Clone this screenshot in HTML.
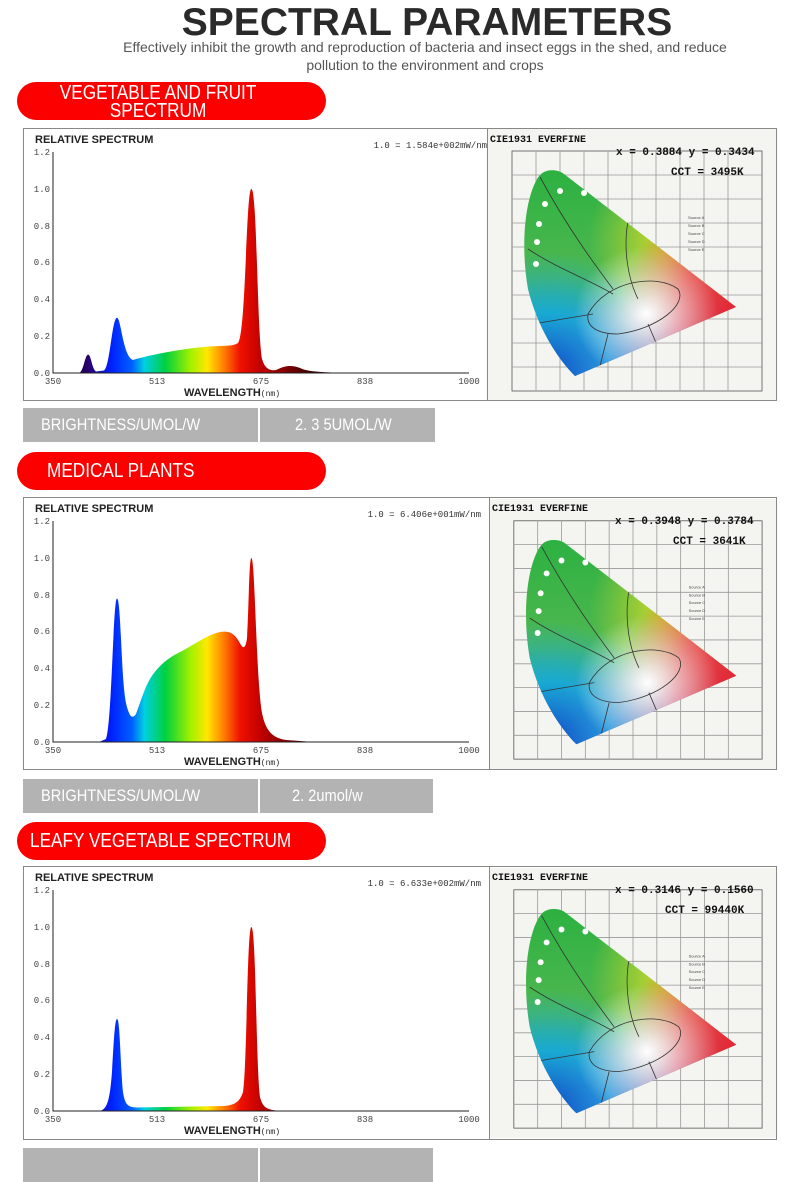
<!DOCTYPE html>
<html><head><meta charset="utf-8"><style>
body{margin:0;background:#fff;width:800px;height:1150px;position:relative;overflow:hidden;font-family:"Liberation Sans",sans-serif}
.abs{position:absolute}
.title{left:27px;width:800px;top:2px;text-align:center;font-size:39px;font-weight:900;color:#2a2a2a;line-height:42px}
.sub{left:25px;width:800px;text-align:center;font-size:14px;color:#555;line-height:18px}
.pill{left:17px;width:309px;height:38px;background:#fc0000;border-radius:19px;color:#fff;font-size:20px}
.cond{display:inline-block;transform:scaleX(0.86);transform-origin:left center;white-space:nowrap}
.box{border:1px solid #888;background:#fff}
.bar{height:34px;background:#b3b3b3;color:#fff;font-size:17px;line-height:34px}
</style></head><body>
<svg width="0" height="0" style="position:absolute">
<defs>
<linearGradient id="spec" gradientUnits="userSpaceOnUse" x1="29" y1="0" x2="445" y2="0">
<stop offset="0" stop-color="#000"/>
<stop offset="0.05" stop-color="#10002a"/>
<stop offset="0.085" stop-color="#2a0070"/>
<stop offset="0.14" stop-color="#0020ff"/>
<stop offset="0.19" stop-color="#0060ff"/>
<stop offset="0.22" stop-color="#00d0e0"/>
<stop offset="0.27" stop-color="#00d040"/>
<stop offset="0.33" stop-color="#a0f000"/>
<stop offset="0.37" stop-color="#ffe800"/>
<stop offset="0.41" stop-color="#ff8000"/>
<stop offset="0.45" stop-color="#f01000"/>
<stop offset="0.5" stop-color="#c00000"/>
<stop offset="0.56" stop-color="#800000"/>
<stop offset="0.62" stop-color="#3a0000"/>
<stop offset="1" stop-color="#000"/>
</linearGradient>
<clipPath id="hs"><path d="M87,247 C70,230 50,200 40,160 C33,120 36,75 48,52 C53,42 60,40 70,42 C73,43 75,44 76,45 L248,178 Z"/></clipPath>
<linearGradient id="g1" x1="0" y1="0" x2="0" y2="1"><stop offset="0" stop-color="#1fae3c"/><stop offset="0.55" stop-color="#50b850"/><stop offset="1" stop-color="#10a0e0"/></linearGradient>
<radialGradient id="rb" cx="0.2" cy="0.9" r="0.45"><stop offset="0" stop-color="#1040c0"/><stop offset="0.5" stop-color="#10a8e8" stop-opacity="0.8"/><stop offset="1" stop-color="#10a8e8" stop-opacity="0"/></radialGradient>
<radialGradient id="rr" cx="0.95" cy="0.7" r="0.5"><stop offset="0" stop-color="#ee1020"/><stop offset="0.6" stop-color="#f03050" stop-opacity="0.8"/><stop offset="1" stop-color="#f03050" stop-opacity="0"/></radialGradient>
<radialGradient id="ry" cx="0.7" cy="0.4" r="0.35"><stop offset="0" stop-color="#ffea20"/><stop offset="1" stop-color="#f0e020" stop-opacity="0"/></radialGradient>
<radialGradient id="rm" cx="0.45" cy="0.95" r="0.35"><stop offset="0" stop-color="#c030b0"/><stop offset="1" stop-color="#d040a0" stop-opacity="0"/></radialGradient>
<radialGradient id="rw" cx="0.55" cy="0.68" r="0.25"><stop offset="0" stop-color="#fff"/><stop offset="1" stop-color="#fff" stop-opacity="0"/></radialGradient>
<symbol id="cie" viewBox="0 0 288 272">
<rect width="288" height="272" fill="#f4f4f0"/>
<g stroke="#999" stroke-width="0.8" fill="none">
<rect x="24" y="22" width="250" height="240" stroke="#555"/>
<path d="M48,22V262M72,22V262M96,22V262M120,22V262M144,22V262M168,22V262M192,22V262M216,22V262M240,22V262M24,46H274M24,70H274M24,94H274M24,118H274M24,142H274M24,166H274M24,190H274M24,214H274M24,238H274"/>
</g>
<g clip-path="url(#hs)">
<rect width="288" height="272" fill="url(#g1)"/>
<rect width="288" height="272" fill="url(#ry)"/>
<rect width="288" height="272" fill="url(#rr)"/>
<rect width="288" height="272" fill="url(#rm)"/>
<rect width="288" height="272" fill="url(#rb)"/>
<rect width="288" height="272" fill="url(#rw)"/>
<g stroke="#333" stroke-width="0.8" fill="none"><path d="M52,48 C80,100 110,140 125,160"/><path d="M40,120 C70,140 100,150 125,165"/><path d="M140,92 C135,120 140,150 150,170"/><path d="M100,185 C120,150 170,145 190,160 C200,175 170,200 130,205 C110,205 98,198 100,185Z"/><path d="M45,195 L105,185"/><path d="M120,205 L110,245"/><path d="M160,195 L175,230"/></g>
</g>
<g fill="#fff"><circle cx="72" cy="62" r="3"/><circle cx="57" cy="75" r="3"/><circle cx="51" cy="95" r="3"/><circle cx="49" cy="113" r="3"/><circle cx="48" cy="135" r="3"/><circle cx="96" cy="64" r="3"/></g>
<g fill="#444" font-size="4" font-family="Liberation Sans"><text x="200" y="90">Source A</text><text x="200" y="98">Source B</text><text x="200" y="106">Source C</text><text x="200" y="114">Source D</text><text x="200" y="122">Source E</text></g>
</symbol>
</defs></svg>

<div class="abs title">SPECTRAL PARAMETERS</div>
<div class="abs sub" style="top:38px">Effectively inhibit the growth and reproduction of bacteria and insect eggs in the shed, and reduce<br>pollution to the environment and crops</div>

<!-- Section 1 -->
<div class="abs pill" style="top:82px;line-height:18px;padding-top:2px;box-sizing:border-box"><span class="cond" style="position:absolute;left:40px;top:2px;text-align:center;width:235px">VEGETABLE AND FRUIT<br>SPECTRUM</span></div>
<svg class="abs box" style="left:23px;top:128px" width="464" height="271">
<text x="11" y="14" font-size="11" font-weight="bold" fill="#222">RELATIVE SPECTRUM</text>
<text x="463" y="19" text-anchor="end" font-size="9" font-family="Liberation Mono" fill="#333">1.0 = 1.584e+002mW/nm</text>
<path d="M40,244 L56,243.5 C60,240 61,225.6 64.2,225.6 C67,225.6 68,240 72,242.5 L80,241.5 C86,238 88,188.8 93,188.8 C97,188.8 99,228 109,231 C125,226 157,220 180,218 C200,216 208,218 214,214 C222,205 222,60 227.4,60 C233,60 233,200 238,230 C241,240 246,242 252,241 C262,236 268,236 276,239 C282,242 290,243 320,244 Z" fill="url(#spec)"/>
<g font-family="Liberation Mono" font-size="9" fill="#444" text-anchor="end"><text x="26" y="26">1.2</text><text x="26" y="63">1.0</text><text x="26" y="100">0.8</text><text x="26" y="136">0.6</text><text x="26" y="173">0.4</text><text x="26" y="210">0.2</text><text x="26" y="247">0.0</text></g>
<path d="M29,23V244H445" stroke="#222" fill="none"/>
<g font-family="Liberation Mono" font-size="9" fill="#444" text-anchor="middle"><text x="29" y="255">350</text><text x="133" y="255">513</text><text x="237" y="255">675</text><text x="341" y="255">838</text><text x="445" y="255">1000</text></g>
<text x="160" y="267" font-size="11" font-weight="bold" fill="#222">WAVELENGTH<tspan font-size="8" font-weight="normal" font-family="Liberation Mono">(nm)</tspan></text>
</svg>
<div class="abs box" style="left:487px;top:128px;width:288px;height:271px">
<svg width="288" height="271"><use href="#cie" width="288" height="272"/>
<g font-family="Liberation Mono" font-weight="bold" fill="#111"><text x="2" y="13" font-size="10">CIE1931  EVERFINE</text><text x="128" y="26" font-size="11">x = 0.3884 y = 0.3434</text><text x="183" y="46" font-size="11">CCT = 3495K</text></g></svg></div>
<div class="abs bar" style="left:23px;top:408px;width:235px;padding-left:18px;box-sizing:border-box"><span class="cond">BRIGHTNESS/UMOL/W</span></div>
<div class="abs bar" style="left:260px;top:408px;width:175px;padding-left:35px;box-sizing:border-box"><span class="cond">2. 3 5UMOL/W</span></div>

<!-- Section 2 -->
<div class="abs pill" style="top:452px;line-height:38px;padding-left:30px;box-sizing:border-box"><span class="cond">MEDICAL PLANTS</span></div>
<svg class="abs box" style="left:23px;top:497px" width="466" height="271">
<text x="11" y="14" font-size="11" font-weight="bold" fill="#222">RELATIVE SPECTRUM</text>
<text x="457" y="19" text-anchor="end" font-size="9" font-family="Liberation Mono" fill="#333">1.0 = 6.406e+001mW/nm</text>
<path d="M75,244 L82,241 C88,225 89,100.5 93,100.5 C97,100.5 97,180 102,205 C105,218 108,222 112,216 C118,200 122,185 130,175 C140,162 150,157 160,152 C180,140 190,134 200,133.6 C210,133 214,142 217,147 C220,152 222,148 223,140 C225,110 225,60 227.4,60 C231,60 232,180 238,215 C242,235 250,240 262,242 L290,244 Z" fill="url(#spec)"/>
<g font-family="Liberation Mono" font-size="9" fill="#444" text-anchor="end"><text x="26" y="26">1.2</text><text x="26" y="63">1.0</text><text x="26" y="100">0.8</text><text x="26" y="136">0.6</text><text x="26" y="173">0.4</text><text x="26" y="210">0.2</text><text x="26" y="247">0.0</text></g>
<path d="M29,23V244H445" stroke="#222" fill="none"/>
<g font-family="Liberation Mono" font-size="9" fill="#444" text-anchor="middle"><text x="29" y="255">350</text><text x="133" y="255">513</text><text x="237" y="255">675</text><text x="341" y="255">838</text><text x="445" y="255">1000</text></g>
<text x="160" y="267" font-size="11" font-weight="bold" fill="#222">WAVELENGTH<tspan font-size="8" font-weight="normal" font-family="Liberation Mono">(nm)</tspan></text>
</svg>
<div class="abs box" style="left:489px;top:497px;width:286px;height:271px">
<svg width="286" height="271"><use href="#cie" width="286" height="272"/>
<g font-family="Liberation Mono" font-weight="bold" fill="#111"><text x="2" y="13" font-size="10">CIE1931  EVERFINE</text><text x="125" y="26" font-size="11">x = 0.3948 y = 0.3784</text><text x="183" y="46" font-size="11">CCT = 3641K</text></g></svg></div>
<div class="abs bar" style="left:23px;top:779px;width:235px;padding-left:18px;box-sizing:border-box"><span class="cond">BRIGHTNESS/UMOL/W</span></div>
<div class="abs bar" style="left:260px;top:779px;width:173px;padding-left:32px;box-sizing:border-box"><span class="cond">2. 2umol/w</span></div>

<!-- Section 3 -->
<div class="abs pill" style="top:822px;line-height:38px;padding-left:13px;box-sizing:border-box"><span class="cond">LEAFY VEGETABLE SPECTRUM</span></div>
<svg class="abs box" style="left:23px;top:866px" width="466" height="272">
<text x="11" y="14" font-size="11" font-weight="bold" fill="#222">RELATIVE SPECTRUM</text>
<text x="457" y="19" text-anchor="end" font-size="9" font-family="Liberation Mono" fill="#333">1.0 = 6.633e+002mW/nm</text>
<path d="M76,244 C84,242 86,230 88,205 C90,170 91,152 93,152 C96,152 96,190 99,225 C101,238 104,240 112,240.5 L200,239 C212,238 216,234 219,225 C223,200 223,60 227.4,60 C232,60 232,200 236,230 C239,242 244,243 258,244 Z" fill="url(#spec)"/>
<g font-family="Liberation Mono" font-size="9" fill="#444" text-anchor="end"><text x="26" y="26">1.2</text><text x="26" y="63">1.0</text><text x="26" y="100">0.8</text><text x="26" y="136">0.6</text><text x="26" y="173">0.4</text><text x="26" y="210">0.2</text><text x="26" y="247">0.0</text></g>
<path d="M29,23V244H445" stroke="#222" fill="none"/>
<g font-family="Liberation Mono" font-size="9" fill="#444" text-anchor="middle"><text x="29" y="255">350</text><text x="133" y="255">513</text><text x="237" y="255">675</text><text x="341" y="255">838</text><text x="445" y="255">1000</text></g>
<text x="160" y="267" font-size="11" font-weight="bold" fill="#222">WAVELENGTH<tspan font-size="8" font-weight="normal" font-family="Liberation Mono">(nm)</tspan></text>
</svg>
<div class="abs box" style="left:489px;top:866px;width:286px;height:272px">
<svg width="286" height="272"><use href="#cie" width="286" height="272"/>
<g font-family="Liberation Mono" font-weight="bold" fill="#111"><text x="2" y="13" font-size="10">CIE1931  EVERFINE</text><text x="125" y="26" font-size="11">x = 0.3146 y = 0.1560</text><text x="175" y="46" font-size="11">CCT = 99440K</text></g></svg></div>
<div class="abs bar" style="left:23px;top:1148px;width:235px"></div>
<div class="abs bar" style="left:260px;top:1148px;width:173px"></div>
</body></html>
